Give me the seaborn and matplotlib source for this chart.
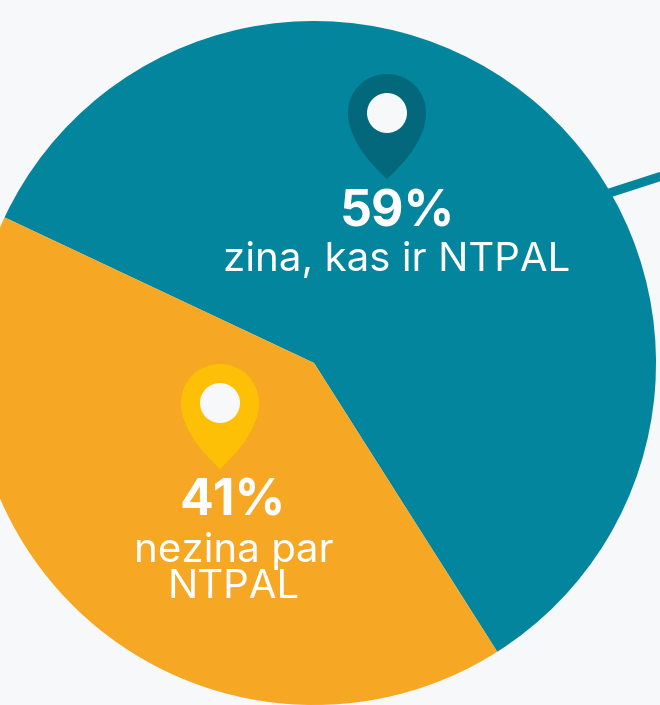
import seaborn as sns
import matplotlib.pyplot as plt
from matplotlib.path import Path
from matplotlib.patches import PathPatch, Circle

labels = ["zina, kas ir NTPAL", "nezina par\nNTPAL"]
shares = [59, 41]
share_labels = ["59%", "41%"]

bg = "#F7F8FA"
colors = ["#03859D", "#F6A723"]
pin_colors = ["#04687C", "#FEC007"]

sns.set_theme(style="white")
plt.rcParams["font.family"] = ["Inter", "DejaVu Sans"]

H = 705
fig = plt.figure(figsize=(6.6, 7.05), dpi=100, facecolor=bg)
ax = fig.add_axes([0, 0, 1, 1])

# little tail going off the right edge, sits behind the pie
ax.plot([600, 665], [H - 196, H - 175], color=colors[0], lw=6.5, solid_capstyle="butt", zorder=0)

wedges, _ = ax.pie(shares, colors=sns.color_palette(colors), startangle=-57.6,
                   center=(314, H - 363), radius=342, frame=True,
                   wedgeprops={"linewidth": 0})
ax.set_xlim(0, 660)
ax.set_ylim(0, H)
ax.set_aspect("equal")
ax.axis("off")


def draw_pin(cx, cy, color):
    # cx, cy is the centre of the round head of the pin
    r = 39
    tip = 66
    verts = [(cx, cy - tip),
             (cx - 5, cy - tip + 5), (cx - r, cy - 32), (cx - r, cy),
             (cx - r, cy + 22), (cx - 22, cy + r), (cx, cy + r),
             (cx + 22, cy + r), (cx + r, cy + 22), (cx + r, cy),
             (cx + r, cy - 32), (cx + 5, cy - tip + 5), (cx, cy - tip),
             (cx, cy - tip)]
    codes = [Path.MOVETO] + [Path.CURVE4] * 12 + [Path.CLOSEPOLY]
    ax.add_patch(PathPatch(Path(verts, codes), facecolor=color, edgecolor="none", zorder=3))
    ax.add_patch(Circle((cx, cy), 20, facecolor=bg, edgecolor="none", zorder=4))


draw_pin(387, H - 113, pin_colors[0])
draw_pin(220, H - 403, pin_colors[1])

ax.text(397, H - 213, share_labels[0], color="white", fontsize=36, fontweight="bold",
        ha="center", va="center", zorder=5)
ax.text(397, H - 260, labels[0], color="white", fontsize=29, fontweight="normal",
        ha="center", va="center", zorder=5)
ax.text(233, H - 502, share_labels[1], color="white", fontsize=36, fontweight="bold",
        ha="center", va="center", zorder=5)
ax.text(234, H - 569, labels[1], color="white", fontsize=29, fontweight="normal",
        ha="center", va="center", linespacing=0.95, zorder=5)

fig.savefig("out.png", dpi=100, facecolor=bg)
